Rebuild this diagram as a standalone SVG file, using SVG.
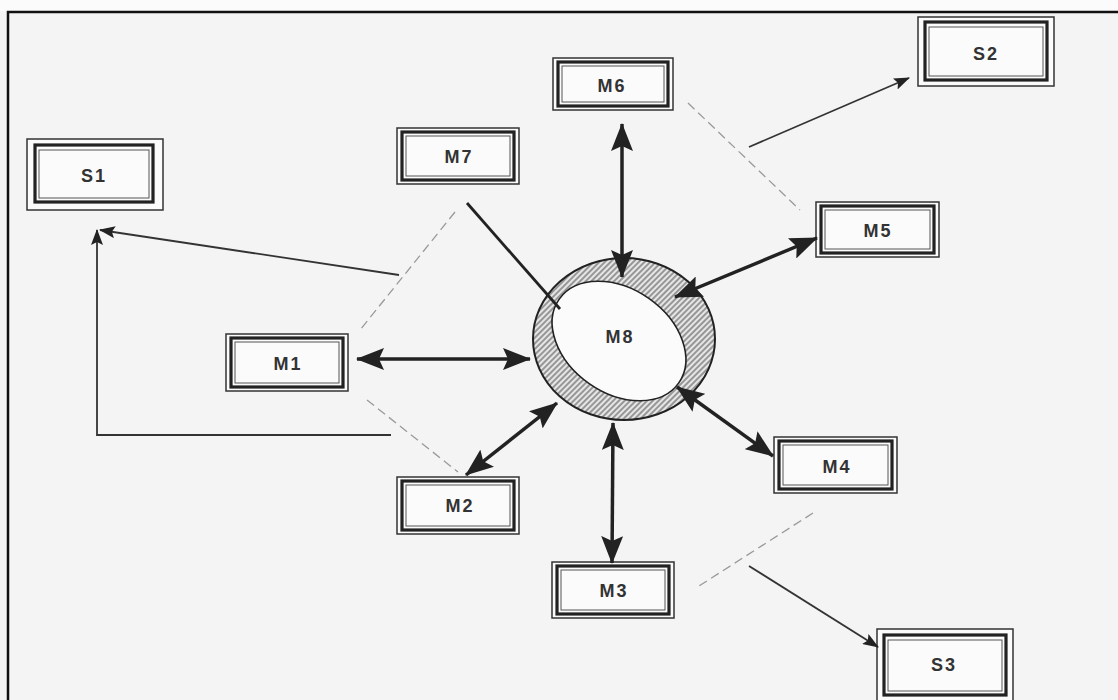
<svg xmlns="http://www.w3.org/2000/svg" width="1118" height="700" viewBox="0 0 1118 700">
<defs>
<style>
.bo{fill:#fbfbfb;stroke:#333;stroke-width:1.5}
.bt{fill:none;stroke:#222;stroke-width:3.2}
.bi{fill:none;stroke:#555;stroke-width:1}
.lbl{font-family:"Liberation Sans",Arial,sans-serif;font-size:18px;font-weight:bold;fill:#333;text-anchor:middle;dominant-baseline:central;letter-spacing:2px}
.thick{stroke:#222;stroke-width:3.5;fill:none;marker-start:url(#ah);marker-end:url(#ah)}
.thin{stroke:#333;stroke-width:1.8;fill:none;marker-end:url(#as)}
.dash{stroke:#9a9a9a;stroke-width:1.3;fill:none;stroke-dasharray:9 5}
</style>
<marker id="ah" viewBox="0 0 28 22" refX="27" refY="11" markerWidth="28" markerHeight="22" markerUnits="userSpaceOnUse" orient="auto-start-reverse">
<path d="M0,0 L28,11 L0,22 L5,11 z" fill="#222"/>
</marker>
<marker id="as" viewBox="0 0 16 12" refX="15" refY="6" markerWidth="16" markerHeight="12" markerUnits="userSpaceOnUse" orient="auto">
<path d="M0,0 L16,6 L0,12 L3,6 z" fill="#222"/>
</marker>
<pattern id="hatch" width="4" height="4" patternUnits="userSpaceOnUse" patternTransform="rotate(45)">
<rect width="4" height="4" fill="#e6e6e6"/>
<line x1="1" y1="0" x2="1" y2="4" stroke="#555" stroke-width="1.1"/>
</pattern>
</defs>
<rect width="1118" height="700" fill="#f4f4f4"/>
<rect width="1118" height="11" fill="#fbfbfb"/>
<path d="M8,700 L8,12 L1118,12" fill="none" stroke="#111" stroke-width="2.5"/>

<g id="M8">
<ellipse cx="624" cy="339" rx="91" ry="81" fill="url(#hatch)" stroke="#222" stroke-width="2"/>
<ellipse cx="619" cy="341" rx="73" ry="52" transform="rotate(35 619 341)" fill="#fbfbfb" stroke="#222" stroke-width="1.6"/>
<text class="lbl" x="620" y="337">M8</text>
</g>

<g id="S1">
<rect class="bo" x="27" y="139" width="136" height="71"/>
<rect class="bt" x="35" y="145" width="118" height="57"/>
<rect class="bi" x="39" y="150" width="110" height="48"/>
<text class="lbl" x="94" y="176">S1</text>
</g>
<g id="S2">
<rect class="bo" x="918" y="17" width="136" height="69"/>
<rect class="bt" x="925" y="22" width="122" height="58"/>
<rect class="bi" x="929" y="27" width="114" height="49"/>
<text class="lbl" x="986" y="54">S2</text>
</g>
<g id="S3">
<rect class="bo" x="877" y="629" width="136" height="72"/>
<rect class="bt" x="884" y="635" width="122" height="60"/>
<rect class="bi" x="888" y="640" width="114" height="51"/>
<text class="lbl" x="944" y="665">S3</text>
</g>
<g id="M6">
<rect class="bo" x="553" y="58" width="120" height="52"/>
<rect class="bt" x="558" y="62" width="110" height="44"/>
<rect class="bi" x="562" y="66" width="102" height="36"/>
<text class="lbl" x="612" y="86">M6</text>
</g>
<g id="M7">
<rect class="bo" x="397" y="128" width="122" height="56"/>
<rect class="bt" x="402" y="132" width="112" height="48"/>
<rect class="bi" x="406" y="136" width="104" height="40"/>
<text class="lbl" x="459" y="157">M7</text>
</g>
<g id="M5">
<rect class="bo" x="816" y="202" width="123" height="55"/>
<rect class="bt" x="821" y="206" width="113" height="47"/>
<rect class="bi" x="825" y="210" width="105" height="39"/>
<text class="lbl" x="878" y="231">M5</text>
</g>
<g id="M1">
<rect class="bo" x="226" y="334" width="122" height="57"/>
<rect class="bt" x="231" y="338" width="112" height="49"/>
<rect class="bi" x="235" y="342" width="104" height="41"/>
<text class="lbl" x="288" y="364">M1</text>
</g>
<g id="M2">
<rect class="bo" x="397" y="477" width="122" height="57"/>
<rect class="bt" x="402" y="481" width="112" height="49"/>
<rect class="bi" x="406" y="485" width="104" height="41"/>
<text class="lbl" x="460" y="506">M2</text>
</g>
<g id="M4">
<rect class="bo" x="774" y="437" width="123" height="56"/>
<rect class="bt" x="779" y="441" width="113" height="48"/>
<rect class="bi" x="783" y="445" width="105" height="40"/>
<text class="lbl" x="837" y="467">M4</text>
</g>
<g id="M3">
<rect class="bo" x="552" y="562" width="122" height="56"/>
<rect class="bt" x="557" y="566" width="112" height="48"/>
<rect class="bi" x="561" y="570" width="104" height="40"/>
<text class="lbl" x="614" y="591">M3</text>
</g>

<g id="connectors">
<line class="dash" x1="455" y1="212" x2="360" y2="330"/>
<line class="dash" x1="367" y1="400" x2="458" y2="472"/>
<line class="dash" x1="688" y1="103" x2="800" y2="210"/>
<line class="dash" x1="813" y1="513" x2="699" y2="586"/>
<line class="thin" x1="399" y1="275" x2="100" y2="230"/>
<polyline class="thin" points="391,435 97,435 97,230"/>
<line class="thin" x1="749" y1="147" x2="909" y2="78"/>
<line class="thin" x1="749" y1="566" x2="878" y2="647"/>
<line stroke="#222" stroke-width="2.8" x1="467" y1="203" x2="560" y2="309"/>
<line class="thick" x1="622" y1="124" x2="622" y2="277"/>
<line class="thick" x1="357" y1="359" x2="530" y2="359"/>
<line class="thick" x1="817" y1="238" x2="675" y2="297"/>
<line class="thick" x1="773" y1="456" x2="677" y2="387"/>
<line class="thick" x1="466" y1="475" x2="557" y2="403"/>
<line class="thick" x1="612" y1="563" x2="613" y2="423"/>
</g>
</svg>
